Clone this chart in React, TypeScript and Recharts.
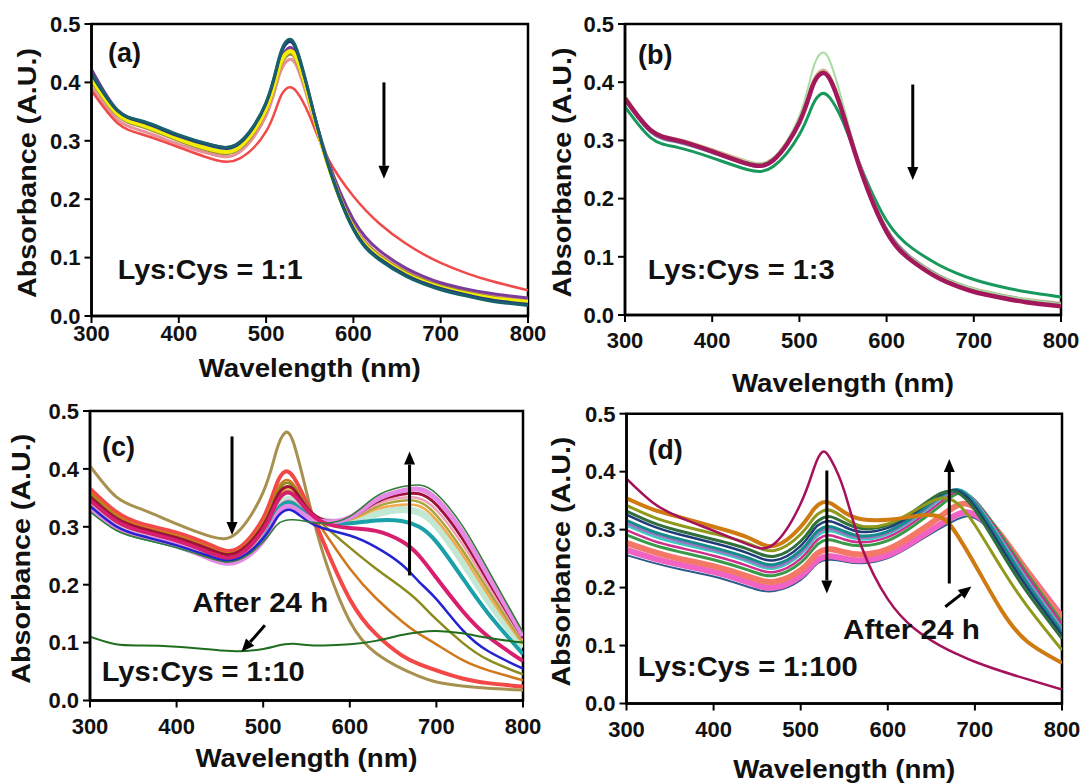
import React from 'react';
import {
  LineChart,
  Line,
  XAxis,
  YAxis,
  ReferenceArea,
  ReferenceLine,
  ReferenceDot,
} from 'recharts';

const FONT = '"Liberation Sans", Arial, Helvetica, sans-serif';
const INK = '#111';

// wavelength grid (nm) shared by every spectrum
const WL = [300, 330, 360, 400, 440, 470, 500, 515, 525, 535, 550, 570, 600, 630, 660, 680, 700, 730, 760, 800];
const X_TICKS = [300, 400, 500, 600, 700, 800];
const Y_TICKS = [0, 0.1, 0.2, 0.3, 0.4, 0.5];

// (a) Lys:Cys = 1:1
const A_PINK = [0.392, 0.336, 0.316, 0.294, 0.276, 0.281, 0.343, 0.412, 0.438, 0.428, 0.360, 0.262, 0.156, 0.105, 0.077, 0.063, 0.053, 0.042, 0.034, 0.027];
const A_OLIVE = [0.402, 0.343, 0.323, 0.300, 0.281, 0.287, 0.351, 0.421, 0.447, 0.436, 0.366, 0.264, 0.154, 0.103, 0.075, 0.062, 0.052, 0.041, 0.032, 0.025];
const A_RED = [0.386, 0.330, 0.310, 0.289, 0.268, 0.270, 0.316, 0.370, 0.391, 0.384, 0.342, 0.272, 0.205, 0.158, 0.124, 0.106, 0.091, 0.073, 0.059, 0.044];
const A_PURPLE = [0.422, 0.352, 0.332, 0.309, 0.292, 0.297, 0.362, 0.430, 0.458, 0.446, 0.372, 0.270, 0.165, 0.112, 0.082, 0.068, 0.057, 0.046, 0.038, 0.031];
const A_YELLOW = [0.406, 0.346, 0.326, 0.303, 0.284, 0.290, 0.355, 0.426, 0.452, 0.441, 0.369, 0.263, 0.151, 0.100, 0.072, 0.059, 0.049, 0.038, 0.030, 0.024];
const A_NAVY = [0.414, 0.351, 0.331, 0.308, 0.290, 0.296, 0.364, 0.440, 0.469, 0.454, 0.375, 0.265, 0.150, 0.098, 0.070, 0.057, 0.047, 0.036, 0.027, 0.020];
const A_TEAL = [0.416, 0.352, 0.333, 0.310, 0.292, 0.298, 0.366, 0.443, 0.473, 0.457, 0.376, 0.264, 0.148, 0.096, 0.068, 0.055, 0.045, 0.034, 0.025, 0.018];

// (b) Lys:Cys = 1:3
const B_GREEN = [0.358, 0.304, 0.288, 0.270, 0.250, 0.255, 0.310, 0.360, 0.380, 0.373, 0.332, 0.256, 0.162, 0.114, 0.086, 0.072, 0.061, 0.049, 0.040, 0.031];
const B_TAN = [0.374, 0.318, 0.302, 0.284, 0.264, 0.269, 0.335, 0.398, 0.420, 0.410, 0.350, 0.254, 0.148, 0.097, 0.068, 0.055, 0.045, 0.035, 0.027, 0.020];
const B_SLATE = [0.370, 0.314, 0.297, 0.279, 0.259, 0.265, 0.330, 0.393, 0.414, 0.405, 0.346, 0.252, 0.147, 0.096, 0.067, 0.054, 0.044, 0.034, 0.026, 0.019];
const B_LIGHT = [0.378, 0.318, 0.300, 0.282, 0.264, 0.270, 0.342, 0.420, 0.450, 0.436, 0.362, 0.256, 0.146, 0.096, 0.067, 0.055, 0.045, 0.035, 0.027, 0.019];
const B_CRIMSON = [0.372, 0.317, 0.300, 0.281, 0.260, 0.266, 0.331, 0.393, 0.415, 0.405, 0.345, 0.250, 0.143, 0.092, 0.063, 0.050, 0.040, 0.030, 0.022, 0.015];

// (c) Lys:Cys = 1:10
const C_MINT = [0.340, 0.304, 0.287, 0.271, 0.250, 0.247, 0.288, 0.332, 0.346, 0.345, 0.324, 0.310, 0.310, 0.322, 0.330, 0.325, 0.302, 0.240, 0.172, 0.092];
const C_KHAKI = [0.405, 0.352, 0.330, 0.305, 0.283, 0.290, 0.360, 0.430, 0.462, 0.445, 0.360, 0.250, 0.137, 0.082, 0.055, 0.042, 0.032, 0.025, 0.021, 0.018];
const C_RED = [0.366, 0.326, 0.305, 0.290, 0.268, 0.262, 0.315, 0.372, 0.395, 0.386, 0.342, 0.272, 0.175, 0.115, 0.078, 0.063, 0.052, 0.038, 0.030, 0.024];
const C_ORANGE = [0.360, 0.321, 0.300, 0.285, 0.263, 0.258, 0.308, 0.360, 0.380, 0.373, 0.336, 0.292, 0.228, 0.177, 0.137, 0.115, 0.097, 0.070, 0.052, 0.035];
const C_OLIVE = [0.356, 0.317, 0.297, 0.282, 0.260, 0.256, 0.304, 0.354, 0.375, 0.369, 0.336, 0.303, 0.264, 0.228, 0.195, 0.170, 0.140, 0.100, 0.070, 0.045];
const C_LORANGE = [0.350, 0.313, 0.295, 0.279, 0.258, 0.254, 0.300, 0.347, 0.364, 0.362, 0.332, 0.311, 0.312, 0.330, 0.338, 0.336, 0.312, 0.252, 0.182, 0.097];
const C_LOLIVE = [0.348, 0.311, 0.293, 0.277, 0.256, 0.252, 0.297, 0.343, 0.360, 0.358, 0.331, 0.311, 0.313, 0.334, 0.345, 0.343, 0.320, 0.260, 0.190, 0.101];
const C_PINK = [0.338, 0.302, 0.285, 0.270, 0.249, 0.246, 0.285, 0.328, 0.344, 0.343, 0.324, 0.311, 0.314, 0.338, 0.350, 0.349, 0.329, 0.270, 0.198, 0.105];
const C_TEAL = [0.331, 0.297, 0.281, 0.266, 0.246, 0.243, 0.280, 0.325, 0.341, 0.340, 0.322, 0.309, 0.306, 0.311, 0.310, 0.300, 0.274, 0.212, 0.150, 0.080];
const C_DARKRED = [0.352, 0.315, 0.297, 0.281, 0.260, 0.256, 0.302, 0.350, 0.368, 0.365, 0.334, 0.312, 0.315, 0.342, 0.356, 0.357, 0.338, 0.280, 0.206, 0.108];
const C_VIOLET = [0.334, 0.299, 0.283, 0.268, 0.244, 0.240, 0.276, 0.318, 0.334, 0.333, 0.318, 0.309, 0.316, 0.346, 0.362, 0.365, 0.348, 0.291, 0.215, 0.112];
const C_MAGENTA = [0.346, 0.310, 0.292, 0.276, 0.254, 0.250, 0.295, 0.340, 0.358, 0.355, 0.330, 0.307, 0.298, 0.293, 0.275, 0.250, 0.212, 0.155, 0.110, 0.068];
const C_BLUE = [0.336, 0.301, 0.284, 0.268, 0.248, 0.244, 0.280, 0.314, 0.328, 0.327, 0.311, 0.297, 0.285, 0.265, 0.235, 0.205, 0.175, 0.122, 0.085, 0.055];
const C_GREEN = [0.326, 0.294, 0.279, 0.264, 0.245, 0.242, 0.274, 0.302, 0.311, 0.312, 0.309, 0.306, 0.318, 0.352, 0.369, 0.372, 0.357, 0.302, 0.225, 0.118];
const C_AFTER = [0.110, 0.097, 0.095, 0.093, 0.088, 0.085, 0.089, 0.094, 0.097, 0.098, 0.096, 0.095, 0.097, 0.103, 0.113, 0.118, 0.120, 0.116, 0.108, 0.100];

// (d) Lys:Cys = 1:100
const D_STEEL = [0.256, 0.243, 0.232, 0.219, 0.201, 0.194, 0.213, 0.236, 0.246, 0.248, 0.245, 0.242, 0.251, 0.275, 0.302, 0.318, 0.320, 0.282, 0.227, 0.152];
const D_PINK = [0.265, 0.251, 0.240, 0.227, 0.209, 0.200, 0.220, 0.242, 0.252, 0.254, 0.250, 0.247, 0.256, 0.280, 0.309, 0.326, 0.326, 0.285, 0.228, 0.150];
const D_SALMON = [0.277, 0.262, 0.250, 0.237, 0.219, 0.210, 0.230, 0.253, 0.264, 0.266, 0.261, 0.257, 0.266, 0.291, 0.322, 0.342, 0.338, 0.290, 0.228, 0.146];
const D_GREEN = [0.291, 0.274, 0.262, 0.248, 0.230, 0.221, 0.243, 0.268, 0.280, 0.282, 0.276, 0.272, 0.281, 0.307, 0.341, 0.362, 0.350, 0.291, 0.224, 0.140];
const D_MAGENTA = [0.299, 0.281, 0.269, 0.255, 0.237, 0.227, 0.250, 0.276, 0.288, 0.290, 0.283, 0.278, 0.287, 0.313, 0.347, 0.366, 0.350, 0.288, 0.220, 0.136];
const D_CYAN = [0.307, 0.289, 0.276, 0.262, 0.244, 0.233, 0.257, 0.283, 0.295, 0.297, 0.290, 0.283, 0.292, 0.318, 0.352, 0.369, 0.349, 0.284, 0.214, 0.130];
const D_LAVENDER = [0.311, 0.293, 0.280, 0.265, 0.247, 0.236, 0.260, 0.287, 0.299, 0.301, 0.293, 0.286, 0.294, 0.320, 0.354, 0.368, 0.347, 0.281, 0.211, 0.127];
const D_TEAL = [0.316, 0.297, 0.284, 0.269, 0.251, 0.240, 0.264, 0.291, 0.303, 0.305, 0.297, 0.289, 0.297, 0.323, 0.357, 0.369, 0.345, 0.278, 0.207, 0.124];
const D_NAVY = [0.326, 0.306, 0.292, 0.277, 0.259, 0.247, 0.272, 0.300, 0.312, 0.314, 0.305, 0.296, 0.303, 0.328, 0.360, 0.367, 0.340, 0.270, 0.200, 0.118];
const D_DKGREEN = [0.332, 0.312, 0.298, 0.283, 0.266, 0.254, 0.280, 0.308, 0.320, 0.322, 0.312, 0.302, 0.308, 0.332, 0.362, 0.364, 0.334, 0.262, 0.192, 0.112];
const D_OLIVE = [0.342, 0.322, 0.308, 0.293, 0.276, 0.264, 0.292, 0.320, 0.332, 0.333, 0.320, 0.306, 0.310, 0.332, 0.354, 0.345, 0.308, 0.235, 0.168, 0.092];
const D_ORANGE = [0.354, 0.335, 0.322, 0.305, 0.286, 0.272, 0.305, 0.335, 0.347, 0.345, 0.330, 0.318, 0.317, 0.323, 0.322, 0.290, 0.240, 0.162, 0.107, 0.070];
const D_CRIMSON = [0.388, 0.347, 0.322, 0.298, 0.274, 0.276, 0.345, 0.405, 0.434, 0.420, 0.367, 0.270, 0.180, 0.130, 0.100, 0.085, 0.072, 0.056, 0.042, 0.024];

type Series = { key: string; color: string; width: number; values: number[] };
type Note = { x: number; y: number; text: string; size: number; length?: number };
type Arrow = { x1: number; y1: number; x2: number; y2: number };

const SERIES_A: Series[] = [
  { key: 'pink', color: '#e8909a', width: 3, values: A_PINK },
  { key: 'olive', color: '#a08a3a', width: 3, values: A_OLIVE },
  { key: 'red', color: '#f04a4a', width: 2.5, values: A_RED },
  { key: 'purple', color: '#7a3c98', width: 3, values: A_PURPLE },
  { key: 'yellow', color: '#f2ee00', width: 4, values: A_YELLOW },
  { key: 'navy', color: '#283a7e', width: 3, values: A_NAVY },
  { key: 'teal', color: '#17606c', width: 3, values: A_TEAL },
];

const SERIES_B: Series[] = [
  { key: 'green', color: '#19985c', width: 3, values: B_GREEN },
  { key: 'tan', color: '#d2b48c', width: 3, values: B_TAN },
  { key: 'slate', color: '#6f7fa8', width: 3, values: B_SLATE },
  { key: 'light', color: '#a9dca0', width: 2, values: B_LIGHT },
  { key: 'crimson', color: '#a3185a', width: 4.5, values: B_CRIMSON },
];

const SERIES_C: Series[] = [
  { key: 'mint', color: '#c2e8d4', width: 7, values: C_MINT },
  { key: 'khaki', color: '#a8914f', width: 3, values: C_KHAKI },
  { key: 'red', color: '#f24848', width: 4, values: C_RED },
  { key: 'orange', color: '#d2781c', width: 2.5, values: C_ORANGE },
  { key: 'olive', color: '#8c8c1e', width: 2.5, values: C_OLIVE },
  { key: 'lorange', color: '#f2aa50', width: 2.5, values: C_LORANGE },
  { key: 'lolive', color: '#aaa43a', width: 2.5, values: C_LOLIVE },
  { key: 'pink', color: '#eea0b8', width: 2.5, values: C_PINK },
  { key: 'teal', color: '#1aa0a8', width: 4, values: C_TEAL },
  { key: 'darkred', color: '#9e1238', width: 3, values: C_DARKRED },
  { key: 'violet', color: '#e48ae4', width: 5, values: C_VIOLET },
  { key: 'magenta', color: '#d81e6e', width: 4, values: C_MAGENTA },
  { key: 'blue', color: '#2323d2', width: 2.5, values: C_BLUE },
  { key: 'green', color: '#2e7d32', width: 1.5, values: C_GREEN },
  { key: 'after', color: '#1f6e1f', width: 2, values: C_AFTER },
];

const SERIES_D: Series[] = [
  { key: 'steel', color: '#2a5d8c', width: 2, values: D_STEEL },
  { key: 'pink', color: '#f062c4', width: 6, values: D_PINK },
  { key: 'salmon', color: '#f47868', width: 6, values: D_SALMON },
  { key: 'green', color: '#3a9a4a', width: 3, values: D_GREEN },
  { key: 'magenta', color: '#cf2f8c', width: 2.5, values: D_MAGENTA },
  { key: 'cyan', color: '#3ec9c0', width: 2.5, values: D_CYAN },
  { key: 'lavender', color: '#9c74c4', width: 2.5, values: D_LAVENDER },
  { key: 'teal', color: '#178a8a', width: 3, values: D_TEAL },
  { key: 'navy', color: '#1f3b7a', width: 2.5, values: D_NAVY },
  { key: 'dkgreen', color: '#2f6f3c', width: 3, values: D_DKGREEN },
  { key: 'olive', color: '#8f9a1c', width: 3, values: D_OLIVE },
  { key: 'orange', color: '#d07a12', width: 4, values: D_ORANGE },
  { key: 'crimson', color: '#a5125c', width: 2.5, values: D_CRIMSON },
];

const arrowShape = (p: any) => {
  const { x1, y1, x2, y2 } = p;
  const dx = x2 - x1;
  const dy = y2 - y1;
  const len = Math.hypot(dx, dy) || 1;
  const ux = dx / len;
  const uy = dy / len;
  const head = 13;
  const half = 5.5;
  const bx = x2 - ux * head;
  const by = y2 - uy * head;
  return (
    <g>
      <line x1={x1} y1={y1} x2={bx} y2={by} stroke="#000" strokeWidth={3} />
      <polygon
        points={`${x2},${y2} ${bx - uy * half},${by + ux * half} ${bx + uy * half},${by - ux * half}`}
        fill="#000"
      />
    </g>
  );
};

type PanelProps = {
  left: number;
  top: number;
  width: number;
  height: number;
  margin: { top: number; right: number; bottom: number; left: number };
  yAxisWidth: number;
  xAxisHeight: number;
  xTickGap: number;
  xTitleOffset: number;
  yTitleX: number;
  series: Series[];
  notes: Note[];
  arrows: Arrow[];
};

const Panel: React.FC<PanelProps> = (props) => {
  const { left, top, width, height, margin, yAxisWidth, xAxisHeight, xTickGap, xTitleOffset, yTitleX, series, notes, arrows } = props;
  const rows = WL.map((wl, i) => {
    const row: Record<string, number> = { wl };
    series.forEach((s) => {
      row[s.key] = s.values[i];
    });
    return row;
  });

  const tickStyle = { fill: INK, fontSize: 22, fontWeight: 700, fontFamily: FONT };

  return (
    <div style={{ position: 'absolute', left, top }}>
      <LineChart width={width} height={height} data={rows} margin={margin}>
        <XAxis
          dataKey="wl"
          type="number"
          domain={[300, 800]}
          ticks={X_TICKS}
          allowDataOverflow
          height={xAxisHeight}
          tickSize={7}
          tickMargin={xTickGap}
          axisLine={{ stroke: '#000', strokeWidth: 2.5 }}
          tickLine={{ stroke: '#000', strokeWidth: 2 }}
          tick={tickStyle}
          label={{
            content: (p: any) => {
              const vb = p.viewBox;
              return (
                <text
                  x={vb.x + vb.width / 2}
                  y={vb.y + xTitleOffset}
                  textAnchor="middle"
                  dominantBaseline="central"
                  fontFamily={FONT}
                  fontWeight={700}
                  fontSize={26}
                  fill={INK}
                  textLength={222}
                  lengthAdjust="spacingAndGlyphs"
                >
                  Wavelength (nm)
                </text>
              );
            },
          }}
        />
        <YAxis
          type="number"
          domain={[0, 0.5]}
          ticks={Y_TICKS}
          allowDataOverflow
          width={yAxisWidth}
          tickSize={7}
          tickMargin={4}
          tickFormatter={(v: number) => v.toFixed(1)}
          axisLine={{ stroke: '#000', strokeWidth: 2.5 }}
          tickLine={{ stroke: '#000', strokeWidth: 2 }}
          tick={tickStyle}
          label={{
            content: (p: any) => {
              const vb = p.viewBox;
              const cy = vb.y + vb.height / 2 + 3;
              return (
                <text
                  x={yTitleX}
                  y={cy}
                  transform={`rotate(-90, ${yTitleX}, ${cy})`}
                  textAnchor="middle"
                  dominantBaseline="central"
                  fontFamily={FONT}
                  fontWeight={700}
                  fontSize={26}
                  fill={INK}
                  textLength={250}
                  lengthAdjust="spacingAndGlyphs"
                >
                  Absorbance (A.U.)
                </text>
              );
            },
          }}
        />
        {series.map((s) => (
          <Line
            key={s.key}
            type="natural"
            dataKey={s.key}
            stroke={s.color}
            strokeWidth={s.width}
            dot={false}
            activeDot={false}
            isAnimationActive={false}
          />
        ))}
        <ReferenceArea x1={300} x2={800} y1={0} y2={0.5} fill="none" fillOpacity={0} stroke="#000" strokeWidth={2.5} />
        {arrows.map((a, i) => (
          <ReferenceLine
            key={`arrow-${i}`}
            segment={[
              { x: a.x1, y: a.y1 },
              { x: a.x2, y: a.y2 },
            ]}
            stroke="#000"
            shape={arrowShape}
          />
        ))}
        {notes.map((n, i) => (
          <ReferenceDot
            key={`note-${i}`}
            x={n.x}
            y={n.y}
            r={0}
            fill="none"
            stroke="none"
            label={{
              content: (p: any) => {
                const vb = p.viewBox;
                return (
                  <text
                    x={vb.x}
                    y={vb.y}
                    dominantBaseline="central"
                    fontFamily={FONT}
                    fontWeight={700}
                    fontSize={n.size}
                    fill={INK}
                    textLength={n.length}
                    lengthAdjust={n.length ? 'spacingAndGlyphs' : undefined}
                  >
                    {n.text}
                  </text>
                );
              },
            }}
          />
        ))}
      </LineChart>
    </div>
  );
};

export default function App() {
  return (
    <div style={{ position: 'absolute', left: 0, top: 0, width: 1081, height: 784, background: '#fff', overflow: 'hidden' }}>
      <Panel
        left={0}
        top={0}
        width={580}
        height={390}
        margin={{ top: 24, right: 52, bottom: 0, left: 0 }}
        yAxisWidth={91.5}
        xAxisHeight={74}
        xTickGap={2.5}
        xTitleOffset={52}
        yTitleX={27}
        series={SERIES_A}
        notes={[
          { x: 319, y: 0.45, text: '(a)', size: 27 },
          { x: 330, y: 0.079, text: 'Lys:Cys = 1:1', size: 27, length: 185 },
        ]}
        arrows={[{ x1: 635, y1: 0.4, x2: 635, y2: 0.235 }]}
      />
      <Panel
        left={540}
        top={0}
        width={541}
        height={405}
        margin={{ top: 24, right: 20, bottom: 15, left: 0 }}
        yAxisWidth={85}
        xAxisHeight={75}
        xTickGap={10.5}
        xTitleOffset={68}
        yTitleX={22}
        series={SERIES_B}
        notes={[
          { x: 315, y: 0.447, text: '(b)', size: 27 },
          { x: 326, y: 0.077, text: 'Lys:Cys = 1:3', size: 27, length: 187 },
        ]}
        arrows={[{ x1: 630, y1: 0.396, x2: 630, y2: 0.232 }]}
      />
      <Panel
        left={0}
        top={390}
        width={560}
        height={394}
        margin={{ top: 21, right: 37, bottom: 0, left: 0 }}
        yAxisWidth={90}
        xAxisHeight={83.5}
        xTickGap={11}
        xTitleOffset={57.5}
        yTitleX={21}
        series={SERIES_C}
        notes={[
          { x: 314, y: 0.438, text: '(c)', size: 27 },
          { x: 418, y: 0.168, text: 'After 24 h', size: 27, length: 136 },
          { x: 313.5, y: 0.049, text: 'Lys:Cys = 1:10', size: 27, length: 203 },
        ]}
        arrows={[
          { x1: 464, y1: 0.456, x2: 464, y2: 0.286 },
          { x1: 669, y1: 0.216, x2: 669, y2: 0.43 },
          { x1: 502, y1: 0.13, x2: 475, y2: 0.084 },
        ]}
      />
      <Panel
        left={540}
        top={390}
        width={541}
        height={394}
        margin={{ top: 23.7, right: 19, bottom: 0, left: 0 }}
        yAxisWidth={86.5}
        xAxisHeight={80.5}
        xTickGap={11}
        xTitleOffset={65}
        yTitleX={21}
        series={SERIES_D}
        notes={[
          { x: 325, y: 0.437, text: '(d)', size: 27 },
          { x: 548.6, y: 0.126, text: 'After 24 h', size: 27, length: 137 },
          { x: 313, y: 0.063, text: 'Lys:Cys = 1:100', size: 27, length: 220 },
        ]}
        arrows={[
          { x1: 530, y1: 0.402, x2: 530, y2: 0.19 },
          { x1: 670.6, y1: 0.207, x2: 670.6, y2: 0.422 },
          { x1: 666, y1: 0.167, x2: 696, y2: 0.202 },
        ]}
      />
    </div>
  );
}
